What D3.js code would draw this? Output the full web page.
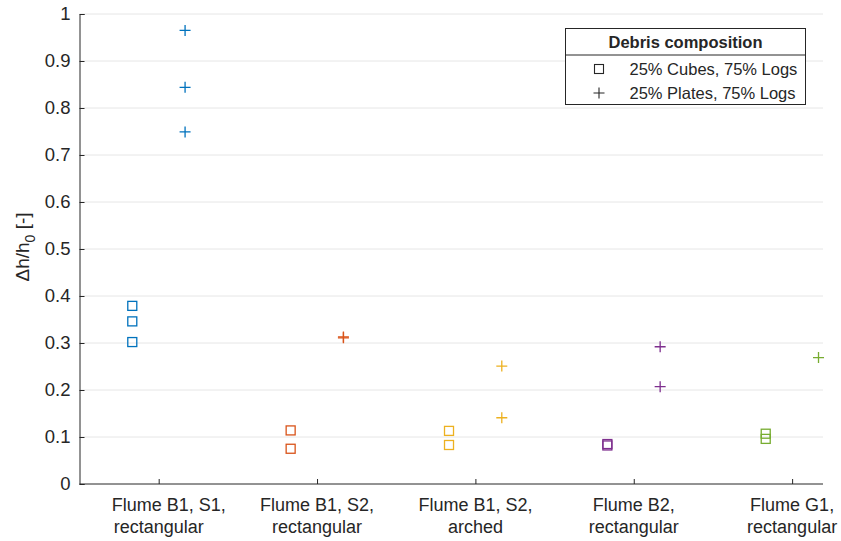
<!DOCTYPE html>
<html lang="en">
<head>
<meta charset="utf-8">
<title>Debris composition</title>
<script src="https://d3js.org/d3.v7.min.js"></script>
<style>
  body { margin: 0; background: #fff; }
  text { font-family: "Liberation Sans", Arial, sans-serif; fill: #262626; }
</style>
</head>
<body>
<script>
// categories (x tick labels, two lines each)
var categories = [
  ["Flume B1, S1,", "rectangular"],
  ["Flume B1, S2,", "rectangular"],
  ["Flume B1, S2,", "arched"],
  ["Flume B2,", "rectangular"],
  ["Flume G1,", "rectangular"]
];
var colors = ["#0072BD", "#D95319", "#EDB120", "#7E2F8E", "#77AC30"];

// 25% Cubes, 75% Logs (squares)
var cubes = [
  [0.379, 0.346, 0.302],
  [0.114, 0.075],
  [0.113, 0.083],
  [0.085, 0.082],
  [0.107, 0.096]
];
// 25% Plates, 75% Logs (plus)
var plates = [
  [0.965, 0.844, 0.749],
  [0.311, 0.313],
  [0.251, 0.141],
  [0.292, 0.207],
  [0.269]
];
var yTicks = [0, 0.1, 0.2, 0.3, 0.4, 0.5, 0.6, 0.7, 0.8, 0.9, 1];

var w = 841, h = 541;
var mLeft = 79.5, mRight = 823, mTop = 14, mBottom = 484;

var svg = d3.select("body").append("svg").attr("width", w).attr("height", h);

var x = d3.scaleLinear().domain([0.5, 5.195]).range([mLeft, mRight]);
var y = d3.scaleLinear().domain([0, 1]).range([mBottom, mTop]);

// grid
svg.append("g").selectAll("line").data(yTicks.slice(1)).enter().append("line")
  .attr("x1", mLeft).attr("x2", mRight)
  .attr("y1", function(d) { return y(d); }).attr("y2", function(d) { return y(d); })
  .attr("stroke", "#e6e6e6").attr("stroke-width", 1);

// y axis
var yAxis = d3.axisLeft(y).tickValues(yTicks).tickSize(-5).tickPadding(9)
  .tickFormat(function(d) { return d === 0 || d === 1 ? d3.format("d")(d) : d3.format(".1f")(d); });
var gy = svg.append("g").attr("transform", "translate(" + mLeft + ",0)").call(yAxis);
gy.select(".domain").attr("stroke", "#262626");
gy.selectAll(".tick line").attr("stroke", "#262626");
gy.selectAll("text").style("font-size", "18.5px").attr("fill", "#262626");

// x axis
var xAxis = d3.axisBottom(x).tickValues([1, 2, 3, 4, 5]).tickSize(-5).tickFormat("");
var gx = svg.append("g").attr("transform", "translate(0," + mBottom + ")").call(xAxis);
gx.select(".domain").attr("stroke", "#262626").attr("d", "M" + mLeft + ",0H" + mRight);
gx.selectAll(".tick line").attr("stroke", "#262626");

var lab = svg.append("g").selectAll("text").data(categories).enter().append("text")
  .attr("text-anchor", "middle")
  .style("font-size", "18px")
  .attr("transform", function(d, i) { return "translate(" + x(i + 1) + "," + (mBottom + 27) + ")"; });
// first label's top line sits a little right of its tick in the original
lab.append("tspan").attr("x", function(d, i) { return i === 0 ? 10 : 0; }).attr("y", 0)
  .text(function(d) { return d[0]; });
lab.append("tspan").attr("x", 0).attr("y", 22).text(function(d) { return d[1]; });

// y label
var yl = svg.append("text").attr("transform", "translate(29,247) rotate(-90)")
  .attr("text-anchor", "middle").style("font-size", "19px");
yl.append("tspan").text("\u0394h/h");
yl.append("tspan").attr("dy", 6).style("font-size", "14px").text("0");
yl.append("tspan").attr("dy", -6).text(" [-]");

var off = 1 / 6;
var sq = 9, pl = 5.5;

// squares
cubes.forEach(function(vals, i) {
  svg.append("g").selectAll("rect").data(vals).enter().append("rect")
    .attr("x", x(i + 1 - off) - sq / 2)
    .attr("y", function(d) { return y(d) - sq / 2; })
    .attr("width", sq).attr("height", sq)
    .attr("fill", "none").attr("stroke", colors[i]).attr("stroke-width", 1.3);
});
// pluses
plates.forEach(function(vals, i) {
  svg.append("g").selectAll("path").data(vals).enter().append("path")
    .attr("d", function(d) {
      var cx = x(i + 1 + off), cy = y(d);
      return "M" + (cx - pl) + "," + cy + "H" + (cx + pl) + "M" + cx + "," + (cy - pl) + "V" + (cy + pl);
    })
    .attr("fill", "none").attr("stroke", colors[i]).attr("stroke-width", 1.3);
});

// legend
var lg = svg.append("g").attr("transform", "translate(565.5,28.5)");
lg.append("rect").attr("width", 240).attr("height", 76).attr("fill", "#fff").attr("stroke", "#262626");
lg.append("line").attr("x1", 0).attr("x2", 240).attr("y1", 26.5).attr("y2", 26.5).attr("stroke", "#262626");
lg.append("text").attr("x", 120).attr("y", 19.5).attr("text-anchor", "middle")
  .style("font-size", "16.5px").style("font-weight", "bold").text("Debris composition");
lg.append("rect").attr("x", 29).attr("y", 36).attr("width", 9).attr("height", 9)
  .attr("fill", "none").attr("stroke", "#262626").attr("stroke-width", 1.1);
lg.append("path").attr("d", "M28," + 64.5 + "H39M33.5,59V70").attr("stroke", "#262626").attr("stroke-width", 1.1);
lg.append("text").attr("x", 64).attr("y", 46.5).style("font-size", "16.5px").text("25% Cubes, 75% Logs");
lg.append("text").attr("x", 64).attr("y", 70.5).style("font-size", "16.5px").text("25% Plates, 75% Logs");
</script>
</body>
</html>
